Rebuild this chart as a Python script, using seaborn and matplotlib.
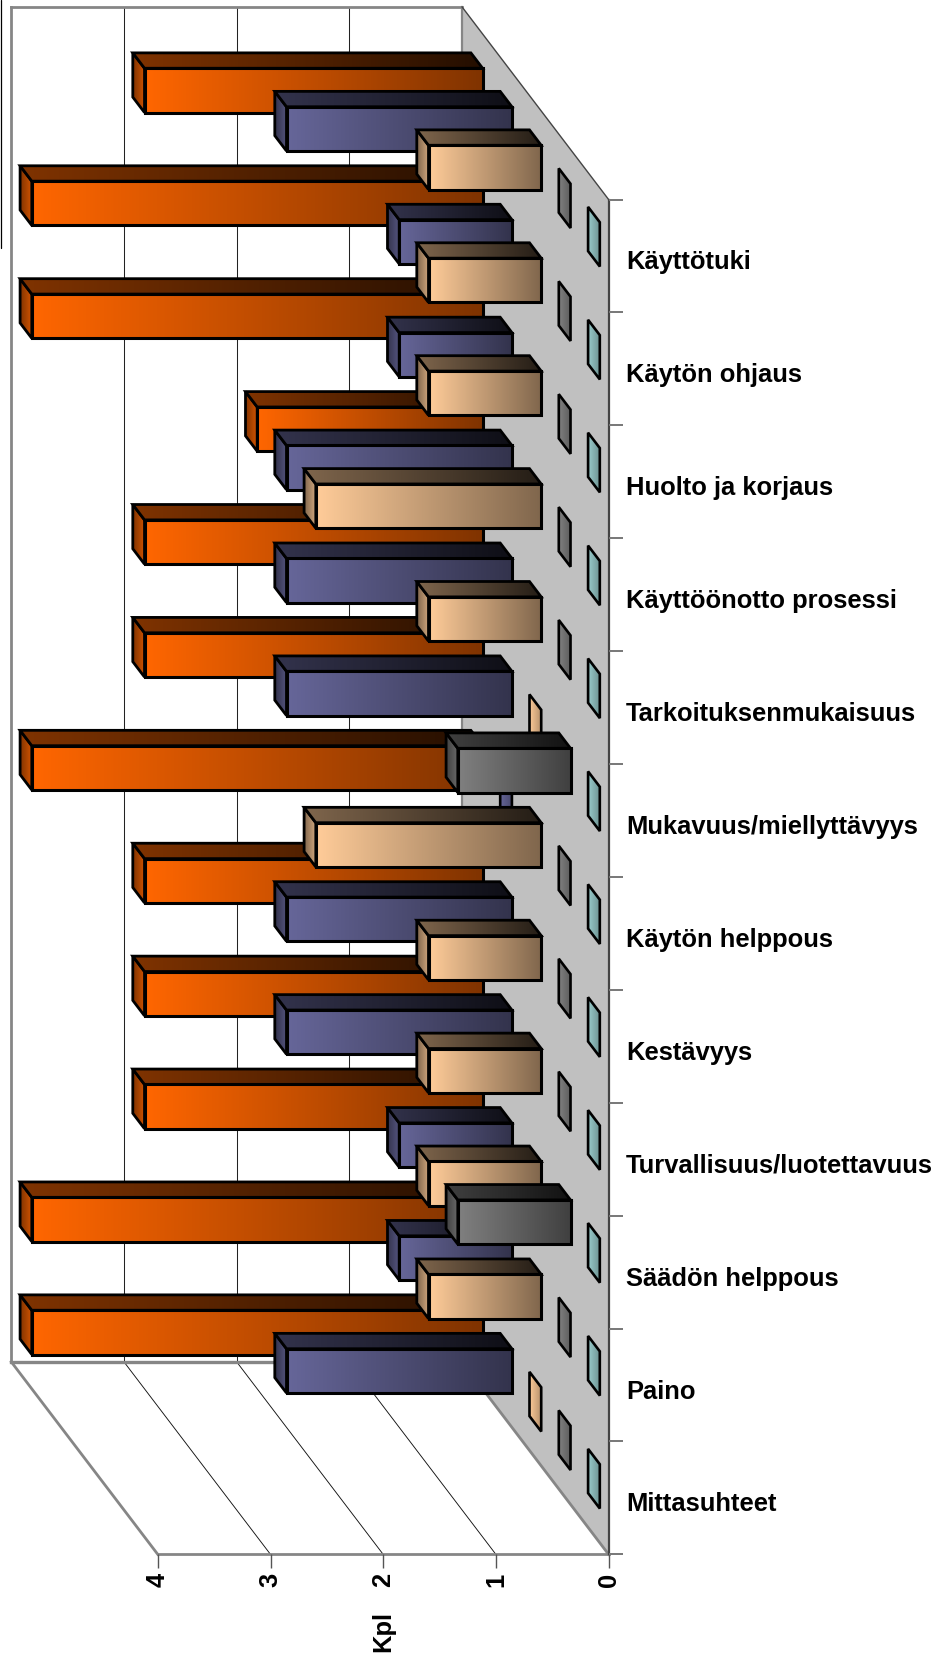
import numpy as np
import pandas as pd
import seaborn as sns
import matplotlib
matplotlib.use("Agg")
import matplotlib.pyplot as plt
from matplotlib.colors import to_rgb
from matplotlib.patches import Polygon
from matplotlib.lines import Line2D
from matplotlib.ticker import FixedLocator, FixedFormatter
from matplotlib.transforms import Affine2D, IdentityTransform

categories = ["Käyttötuki", "Käytön ohjaus", "Huolto ja korjaus", "Käyttöönotto prosessi",
              "Tarkoituksenmukaisuus", "Mukavuus/miellyttävyys", "Käytön helppous", "Kestävyys",
              "Turvallisuus/luotettavuus", "Säädön helppous", "Paino", "Mittasuhteet"]
series_names = ["Sarja 1", "Sarja 2", "Sarja 3", "Sarja 4", "Sarja 5"]
orange_vals = [3, 4, 4, 2, 3, 3, 4, 3, 3, 3, 4, 4]
blue_vals = [2, 1, 1, 2, 2, 2, 0, 2, 2, 1, 1, 2]
tan_vals = [1, 1, 1, 2, 1, 0, 2, 1, 1, 1, 1, 0]
gray_vals = [0, 0, 0, 0, 0, 1, 0, 0, 0, 1, 0, 0]
teal_vals = [0, 0, 0, 0, 0, 0, 0, 0, 0, 0, 0, 0]
base_colors = ["#FF6600", "#666699", "#FFCC99", "#808080", "#99CCCC"]

W, H = 942, 1659
DEPTH_X, DEPTH_Y = 146.5, 192.5
FACE_NEAR, FACE_FAR = 0.30, 0.70
BAR_WIDTH = 0.392

df = pd.DataFrame({
    "Kategoria": categories * 5,
    "Kpl": orange_vals + blue_vals + tan_vals + gray_vals + teal_vals,
    "Sarja": [n for n in series_names for _ in categories],
})

sns.set_style("white")
plt.rcParams["font.family"] = ["Liberation Sans", "DejaVu Sans"]
plt.rcParams["text.color"] = "black"
plt.rcParams["axes.labelcolor"] = "black"
plt.rcParams["xtick.labelcolor"] = "black"
plt.rcParams["ytick.labelcolor"] = "black"
fig = plt.figure(figsize=(W / 100, H / 100), dpi=100, facecolor="white")
ax = fig.add_axes([157.8 / W, (H - 1554.4) / H, (608.6 - 157.8) / W, (1554.4 - 199.5) / H])
ax.patch.set_visible(False)
sns.barplot(data=df, y="Kategoria", x="Kpl", hue="Sarja", hue_order=series_names, dodge=False,
            width=BAR_WIDTH, palette=base_colors, legend=False, ax=ax, orient="h",
            estimator="sum", errorbar=None)
ax.set_xlim(4, 0)
ax.set_ylim(11.5, -0.5)
ax.set_autoscale_on(False)
fig.canvas.draw()


def P(v, y, d=0.0):
    px = ax.transData.transform((v, y))
    return (px[0] - DEPTH_X * d, px[1] + DEPTH_Y * d)


idt = IdentityTransform()


def poly(pts, z, fc="none", ec="k", lw=0.0):
    p = Polygon(pts, closed=True, transform=idt, fc=fc, ec=ec, lw=lw, zorder=z,
                clip_on=False, joinstyle="miter")
    ax.add_patch(p)
    return p


def seg(a, b, color, lw, z):
    ax.add_line(Line2D([a[0], b[0]], [a[1], b[1]], transform=idt, color=color, lw=lw,
                       zorder=z, clip_on=False, solid_capstyle="projecting"))


def grad(pts, c0, c1, z):
    xs = [p[0] for p in pts]
    ys = [p[1] for p in pts]
    t = np.linspace(0, 1, 128)[:, None]
    row = (1 - t) * np.array(to_rgb(c0)) + t * np.array(to_rgb(c1))
    im = ax.imshow(row[None, :, :], extent=(min(xs), max(xs), min(ys), max(ys)), aspect="auto",
                   transform=idt, interpolation="bilinear", zorder=z, origin="lower")
    clip = Polygon(pts, closed=True, transform=idt)
    im.set_clip_box(fig.bbox)
    im.set_clip_path(clip)
    im.set_clip_on(True)
    return im


def shade(c, f):
    return tuple(np.clip(np.array(to_rgb(c)) * f, 0, 1))


# walls and floor
GRAY = "#868686"
poly([P(4, 11.5, 1), P(0, 11.5, 1), P(0, 11.5, 0), P(4, 11.5, 0)], 0.1, fc="white")
poly([P(0, -0.5, 1), P(0, -0.5, 0), P(0, 11.5, 0), P(0, 11.5, 1)], 0.2, fc="#C0C0C0")
for v in [1, 2, 3]:
    seg(P(v, -0.5, 1), P(v, 11.5, 1), "#222222", 0.75, 0.3)
    seg(P(v, 11.5, 1), P(v, 11.5, 0), "#111111", 0.65, 0.3)
seg(P(4, -0.5, 1), P(0, -0.5, 1), GRAY, 2.0, 0.4)
seg(P(4, -0.5, 1), P(4, 11.5, 1), GRAY, 2.0, 0.4)
seg(P(4, 11.5, 1), P(0, 11.5, 1), GRAY, 2.4, 0.4)
seg(P(0, -0.5, 1), P(0, 11.5, 1), GRAY, 1.6, 0.4)
seg(P(4, 11.5, 1), P(4, 11.5, 0), GRAY, 2.0, 0.4)
seg(P(0, 11.5, 1), P(0, 11.5, 0), GRAY, 2.0, 0.4)
seg(P(0, -0.5, 1), P(0, -0.5, 0), "#444444", 1.0, 0.4)
seg(P(4, 11.5, 0), P(0, 11.5, 0), GRAY, 2.0, 0.4)
seg(P(0, -0.5, 0), P(0, 11.5, 0), "#444444", 1.6, 0.4)

# cut-off legend box at the top-left corner
ax.add_line(Line2D([1.0, 1.0], [H, H - 248], transform=idt, color="k", lw=0.9, clip_on=False))

# bars: seaborn's rectangles give the front faces; depth faces are projected from them
for s, cont in enumerate(ax.containers):
    slot = 4 - s
    c = base_colors[s]
    d_near = (slot + FACE_NEAR) / 5
    d_far = (slot + FACE_FAR) / 5
    for i, rect in enumerate(cont):
        v = rect.get_width()
        y0, y1 = rect.get_y(), rect.get_y() + rect.get_height()
        y_top, y_bot = min(y0, y1), max(y0, y1)
        z = 1 + s + i / 20
        side = [P(v, y_top, d_far), P(v, y_top, d_near), P(v, y_bot, d_near), P(v, y_bot, d_far)]
        top = [P(v, y_top, d_far), P(0, y_top, d_far), P(0, y_top, d_near), P(v, y_top, d_near)]
        front = [P(v, y_top, d_near), P(0, y_top, d_near), P(0, y_bot, d_near), P(v, y_bot, d_near)]
        if v > 0:
            grad(side, shade(c, 0.5), shade(c, 0.82), z)
            poly(side, z + 0.001, ec="k", lw=2.0)
            grad(top, shade(c, 0.5), shade(c, 0.14), z + 0.002)
            poly(top, z + 0.003, ec="k", lw=2.0)
            grad(front, c, shade(c, 0.5), z + 0.004)
            poly(front, z + 0.005, ec="k", lw=2.2)
        else:
            grad(side, shade(c, 1.0), shade(c, 0.72), z)
            poly(side, z + 0.001, ec="k", lw=1.9)
        rect.set_visible(False)

# axes dressing
font = dict(fontweight="bold", fontsize=18.4, color="black")
for name in ["top", "left", "bottom", "right"]:
    ax.spines[name].set_visible(False)
ax.set_xticks([0, 1, 2, 3, 4])
ax.set_xticklabels(["0", "1", "2", "3", "4"], rotation=90, **font)
ax.tick_params(axis="x", length=10, width=1.0, color="#555555", pad=3, bottom=True)
ax.yaxis.tick_right()
ax.yaxis.set_major_locator(FixedLocator(list(range(12))))
ax.yaxis.set_major_formatter(FixedFormatter(categories))
ax.set_yticks(np.arange(-0.5, 12, 1), minor=True)
ax.tick_params(axis="y", which="major", length=0, pad=12.5, labelsize=18.4)
ax.tick_params(axis="y", which="minor", length=10, width=1.4, color="#777777", right=True, left=False)
for t in ax.get_yticklabels():
    t.set_fontweight("bold")
    t.set_color("black")
    t.set_transform(t.get_transform() + Affine2D().translate(0, -4))
ax.set_ylabel("")
ax.set_xlabel("Kpl", rotation=90, labelpad=17.5, **font)

fig.savefig("out.png", dpi=100, facecolor="white")
